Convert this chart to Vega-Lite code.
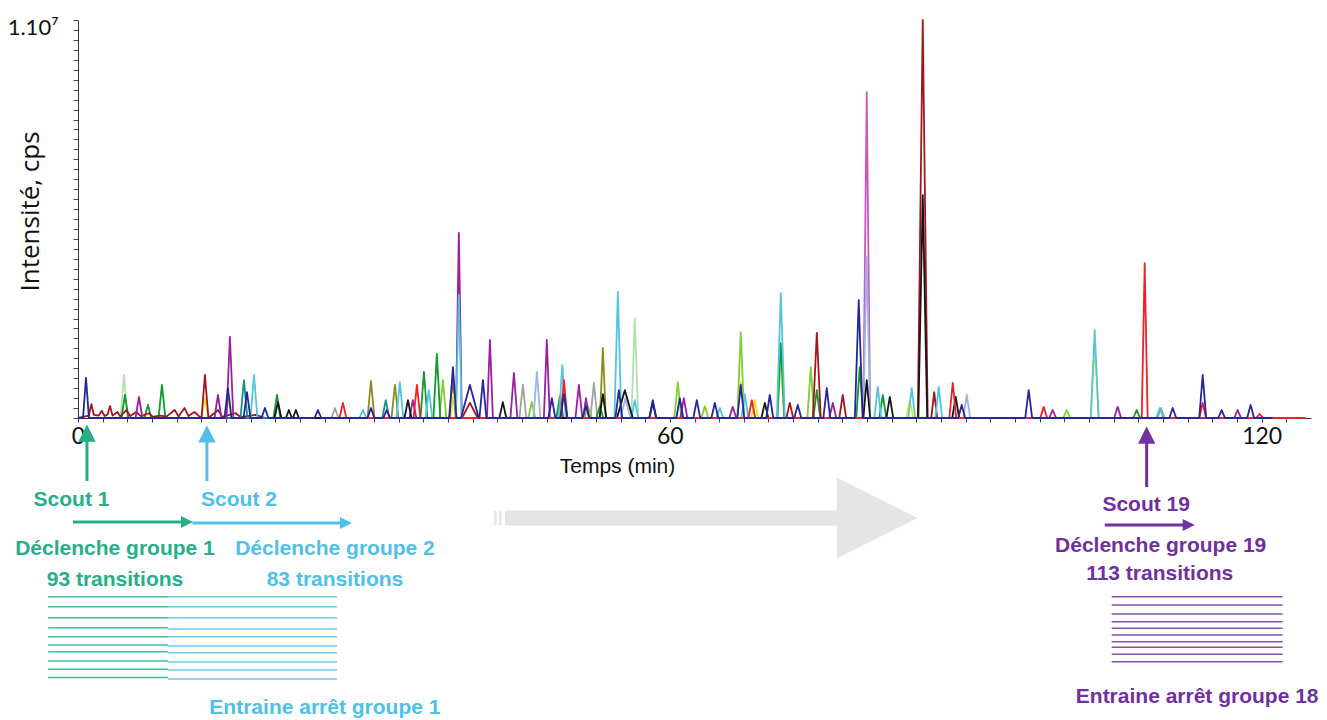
{
  "$schema": "https://vega.github.io/schema/vega-lite/v6.json",
  "width": 1233,
  "height": 398,
  "autosize": {"type": "none"},
  "padding": {"left": 78, "top": 20, "right": 16, "bottom": 302},
  "background": "white",
  "config": {"view": {"stroke": null}},
  "datasets": {
    "tr": [
      {"s":"palegreen","t":4.31,"v":0},{"s":"palegreen","t":4.66,"v":1080000},{"s":"palegreen","t":5.01,"v":0},{"s":"palegreen","t":56.1,"v":0},{"s":"palegreen","t":56.45,"v":2510000},{"s":"palegreen","t":56.8,"v":0},
      {"s":"grey","t":25.7,"v":0},{"s":"grey","t":26.05,"v":250000},{"s":"grey","t":26.4,"v":0},{"s":"grey","t":44.75,"v":0},{"s":"grey","t":45.1,"v":830000},{"s":"grey","t":45.45,"v":0},{"s":"grey","t":51.95,"v":0},{"s":"grey","t":52.3,"v":880000},{"s":"grey","t":52.65,"v":0},{"s":"grey","t":109.45,"v":0},{"s":"grey","t":109.8,"v":250000},{"s":"grey","t":110.15,"v":0},
      {"s":"olive","t":29.35,"v":0},{"s":"olive","t":29.7,"v":930000},{"s":"olive","t":30.05,"v":0},{"s":"olive","t":31.78,"v":0},{"s":"olive","t":32.13,"v":830000},{"s":"olive","t":32.48,"v":0},{"s":"olive","t":37.6,"v":0},{"s":"olive","t":37.95,"v":950000},{"s":"olive","t":38.3,"v":0},{"s":"olive","t":52.91,"v":0},{"s":"olive","t":53.21,"v":1760000},{"s":"olive","t":53.51,"v":0},
      {"s":"lime","t":36.64,"v":0},{"s":"lime","t":36.99,"v":950000},{"s":"lime","t":37.34,"v":0},{"s":"lime","t":45.65,"v":0},{"s":"lime","t":46.0,"v":400000},{"s":"lime","t":46.35,"v":0},{"s":"lime","t":51.35,"v":0},{"s":"lime","t":51.7,"v":300000},{"s":"lime","t":52.05,"v":0},{"s":"lime","t":60.46,"v":0},{"s":"lime","t":60.81,"v":900000},{"s":"lime","t":61.16,"v":0},{"s":"lime","t":63.2,"v":0},{"s":"lime","t":63.55,"v":300000},{"s":"lime","t":63.9,"v":0},{"s":"lime","t":66.84,"v":0},{"s":"lime","t":67.19,"v":2160000},{"s":"lime","t":67.54,"v":0},{"s":"lime","t":73.94,"v":0},{"s":"lime","t":74.29,"v":1280000},{"s":"lime","t":74.64,"v":0},{"s":"lime","t":99.88,"v":0},{"s":"lime","t":100.23,"v":200000},{"s":"lime","t":100.58,"v":0},
      {"s":"yellow","t":12.52,"v":0},{"s":"yellow","t":12.87,"v":500000},{"s":"yellow","t":13.22,"v":0},{"s":"yellow","t":14.95,"v":0},{"s":"yellow","t":15.3,"v":530000},{"s":"yellow","t":15.65,"v":0},{"s":"yellow","t":37.75,"v":0},{"s":"yellow","t":38.1,"v":600000},{"s":"yellow","t":38.45,"v":0},{"s":"yellow","t":66.84,"v":0},{"s":"yellow","t":67.19,"v":900000},{"s":"yellow","t":67.54,"v":0},{"s":"yellow","t":68.26,"v":0},{"s":"yellow","t":68.61,"v":450000},{"s":"yellow","t":68.96,"v":0},{"s":"yellow","t":70.9,"v":0},{"s":"yellow","t":71.25,"v":1530000},{"s":"yellow","t":71.6,"v":0},{"s":"yellow","t":83.97,"v":0},{"s":"yellow","t":84.32,"v":450000},{"s":"yellow","t":84.67,"v":0},{"s":"yellow","t":102.67,"v":0},{"s":"yellow","t":103.07,"v":1830000},{"s":"yellow","t":103.47,"v":0},
      {"s":"green","t":4.41,"v":0},{"s":"green","t":4.76,"v":580000},{"s":"green","t":5.11,"v":0},{"s":"green","t":6.74,"v":0},{"s":"green","t":7.09,"v":330000},{"s":"green","t":7.44,"v":0},{"s":"green","t":8.16,"v":0},{"s":"green","t":8.51,"v":830000},{"s":"green","t":8.86,"v":0},{"s":"green","t":19.82,"v":0},{"s":"green","t":20.17,"v":580000},{"s":"green","t":20.52,"v":0},{"s":"green","t":34.72,"v":0},{"s":"green","t":35.07,"v":1160000},{"s":"green","t":35.42,"v":0},{"s":"green","t":36.03,"v":0},{"s":"green","t":36.38,"v":1610000},{"s":"green","t":36.73,"v":0},{"s":"green","t":48.5,"v":0},{"s":"green","t":48.85,"v":550000},{"s":"green","t":49.2,"v":0},{"s":"green","t":52.55,"v":0},{"s":"green","t":52.9,"v":300000},{"s":"green","t":53.25,"v":0},{"s":"green","t":70.9,"v":0},{"s":"green","t":71.25,"v":1880000},{"s":"green","t":71.6,"v":0},{"s":"green","t":74.55,"v":0},{"s":"green","t":74.9,"v":700000},{"s":"green","t":75.25,"v":0},{"s":"green","t":78.9,"v":0},{"s":"green","t":79.25,"v":1280000},{"s":"green","t":79.6,"v":0},{"s":"green","t":81.24,"v":0},{"s":"green","t":81.59,"v":580000},{"s":"green","t":81.94,"v":0},{"s":"green","t":106.98,"v":0},{"s":"green","t":107.33,"v":200000},{"s":"green","t":107.68,"v":0},
      {"s":"maroon","t":0,"v":0},{"s":"maroon","t":1.1,"v":60000},{"s":"maroon","t":1.35,"v":350000},{"s":"maroon","t":1.6,"v":80000},{"s":"maroon","t":2.1,"v":60000},{"s":"maroon","t":2.4,"v":180000},{"s":"maroon","t":2.7,"v":50000},{"s":"maroon","t":3.0,"v":90000},{"s":"maroon","t":3.25,"v":300000},{"s":"maroon","t":3.5,"v":60000},{"s":"maroon","t":4.0,"v":150000},{"s":"maroon","t":4.3,"v":40000},{"s":"maroon","t":4.9,"v":200000},{"s":"maroon","t":5.3,"v":50000},{"s":"maroon","t":5.9,"v":150000},{"s":"maroon","t":6.4,"v":40000},{"s":"maroon","t":7.2,"v":120000},{"s":"maroon","t":7.6,"v":30000},{"s":"maroon","t":8.2,"v":60000},{"s":"maroon","t":9.0,"v":40000},{"s":"maroon","t":9.8,"v":200000},{"s":"maroon","t":10.2,"v":40000},{"s":"maroon","t":10.8,"v":250000},{"s":"maroon","t":11.2,"v":50000},{"s":"maroon","t":11.8,"v":150000},{"s":"maroon","t":12.3,"v":40000},{"s":"maroon","t":12.52,"v":0},{"s":"maroon","t":12.87,"v":1080000},{"s":"maroon","t":13.22,"v":0},{"s":"maroon","t":14.2,"v":200000},{"s":"maroon","t":14.6,"v":30000},{"s":"maroon","t":16.0,"v":120000},{"s":"maroon","t":16.5,"v":20000},{"s":"maroon","t":18.0,"v":80000},{"s":"maroon","t":19.0,"v":0},{"s":"maroon","t":38.93,"v":0},{"s":"maroon","t":39.73,"v":380000},{"s":"maroon","t":40.53,"v":0},{"s":"maroon","t":71.81,"v":0},{"s":"maroon","t":72.16,"v":380000},{"s":"maroon","t":72.51,"v":0},{"s":"maroon","t":74.5,"v":0},{"s":"maroon","t":74.9,"v":2140000},{"s":"maroon","t":75.3,"v":0},{"s":"maroon","t":77.18,"v":0},{"s":"maroon","t":77.53,"v":580000},{"s":"maroon","t":77.88,"v":0},{"s":"maroon","t":85.14,"v":0},{"s":"maroon","t":85.64,"v":10000000},{"s":"maroon","t":86.14,"v":0},{"s":"maroon","t":86.5,"v":0},{"s":"maroon","t":86.8,"v":650000},{"s":"maroon","t":87.1,"v":0},
      {"s":"pink","t":79.61,"v":0},{"s":"pink","t":79.96,"v":8190000},{"s":"pink","t":80.31,"v":0},
      {"s":"magenta","t":5.83,"v":0},{"s":"magenta","t":6.18,"v":530000},{"s":"magenta","t":6.53,"v":0},{"s":"magenta","t":13.84,"v":0},{"s":"magenta","t":14.19,"v":580000},{"s":"magenta","t":14.54,"v":0},{"s":"magenta","t":15.05,"v":0},{"s":"magenta","t":15.4,"v":2040000},{"s":"magenta","t":15.75,"v":0},{"s":"magenta","t":33.6,"v":0},{"s":"magenta","t":33.95,"v":450000},{"s":"magenta","t":34.3,"v":0},{"s":"magenta","t":38.31,"v":0},{"s":"magenta","t":38.61,"v":4650000},{"s":"magenta","t":38.91,"v":0},{"s":"magenta","t":41.46,"v":0},{"s":"magenta","t":41.76,"v":1960000},{"s":"magenta","t":42.06,"v":0},{"s":"magenta","t":43.84,"v":0},{"s":"magenta","t":44.19,"v":1130000},{"s":"magenta","t":44.54,"v":0},{"s":"magenta","t":47.23,"v":0},{"s":"magenta","t":47.53,"v":1960000},{"s":"magenta","t":47.83,"v":0},{"s":"magenta","t":50.43,"v":0},{"s":"magenta","t":50.78,"v":830000},{"s":"magenta","t":51.13,"v":0},{"s":"magenta","t":51.2,"v":0},{"s":"magenta","t":51.5,"v":500000},{"s":"magenta","t":51.8,"v":0},{"s":"magenta","t":61.07,"v":0},{"s":"magenta","t":61.42,"v":500000},{"s":"magenta","t":61.77,"v":0},{"s":"magenta","t":66.03,"v":0},{"s":"magenta","t":66.38,"v":280000},{"s":"magenta","t":66.73,"v":0},{"s":"magenta","t":76.17,"v":0},{"s":"magenta","t":76.52,"v":380000},{"s":"magenta","t":76.87,"v":0},{"s":"magenta","t":98.46,"v":0},{"s":"magenta","t":98.81,"v":200000},{"s":"magenta","t":99.16,"v":0},{"s":"magenta","t":105.05,"v":0},{"s":"magenta","t":105.4,"v":280000},{"s":"magenta","t":105.75,"v":0},{"s":"magenta","t":117.21,"v":0},{"s":"magenta","t":117.56,"v":200000},{"s":"magenta","t":117.91,"v":0},
      {"s":"cyan","t":17.49,"v":0},{"s":"cyan","t":17.84,"v":1080000},{"s":"cyan","t":18.19,"v":0},{"s":"cyan","t":28.53,"v":0},{"s":"cyan","t":28.88,"v":200000},{"s":"cyan","t":29.23,"v":0},{"s":"cyan","t":32.28,"v":0},{"s":"cyan","t":32.63,"v":900000},{"s":"cyan","t":32.98,"v":0},{"s":"cyan","t":35.22,"v":0},{"s":"cyan","t":35.57,"v":700000},{"s":"cyan","t":35.92,"v":0},{"s":"cyan","t":38.31,"v":0},{"s":"cyan","t":38.61,"v":3090000},{"s":"cyan","t":38.91,"v":0},{"s":"cyan","t":48.75,"v":0},{"s":"cyan","t":49.1,"v":1330000},{"s":"cyan","t":49.45,"v":0},{"s":"cyan","t":54.38,"v":0},{"s":"cyan","t":54.73,"v":3170000},{"s":"cyan","t":55.08,"v":0},{"s":"cyan","t":56.1,"v":0},{"s":"cyan","t":56.45,"v":450000},{"s":"cyan","t":56.8,"v":0},{"s":"cyan","t":64.72,"v":0},{"s":"cyan","t":65.07,"v":250000},{"s":"cyan","t":65.42,"v":0},{"s":"cyan","t":67.25,"v":0},{"s":"cyan","t":67.6,"v":600000},{"s":"cyan","t":67.95,"v":0},{"s":"cyan","t":70.85,"v":0},{"s":"cyan","t":71.25,"v":3140000},{"s":"cyan","t":71.65,"v":0},{"s":"cyan","t":80.73,"v":0},{"s":"cyan","t":81.08,"v":780000},{"s":"cyan","t":81.43,"v":0},{"s":"cyan","t":84.17,"v":0},{"s":"cyan","t":84.52,"v":750000},{"s":"cyan","t":84.87,"v":0},{"s":"cyan","t":86.91,"v":0},{"s":"cyan","t":87.26,"v":780000},{"s":"cyan","t":87.61,"v":0},{"s":"cyan","t":102.67,"v":0},{"s":"cyan","t":103.07,"v":2210000},{"s":"cyan","t":103.47,"v":0},{"s":"cyan","t":109.31,"v":0},{"s":"cyan","t":109.66,"v":250000},{"s":"cyan","t":110.01,"v":0},
      {"s":"lightblue","t":46.17,"v":0},{"s":"lightblue","t":46.52,"v":1160000},{"s":"lightblue","t":46.87,"v":0},{"s":"lightblue","t":55.0,"v":0},{"s":"lightblue","t":55.5,"v":500000},{"s":"lightblue","t":56.0,"v":0},{"s":"lightblue","t":79.61,"v":0},{"s":"lightblue","t":79.96,"v":4050000},{"s":"lightblue","t":80.31,"v":0},{"s":"lightblue","t":89.75,"v":0},{"s":"lightblue","t":90.1,"v":580000},{"s":"lightblue","t":90.45,"v":0},
      {"s":"teal","t":16.47,"v":0},{"s":"teal","t":16.82,"v":950000},{"s":"teal","t":17.17,"v":0},{"s":"teal","t":30.85,"v":0},{"s":"teal","t":31.2,"v":450000},{"s":"teal","t":31.55,"v":0},
      {"s":"black","t":19.92,"v":0},{"s":"black","t":20.27,"v":400000},{"s":"black","t":20.62,"v":0},{"s":"black","t":21.08,"v":0},{"s":"black","t":21.38,"v":200000},{"s":"black","t":21.68,"v":0},{"s":"black","t":21.79,"v":0},{"s":"black","t":22.09,"v":200000},{"s":"black","t":22.39,"v":0},{"s":"black","t":33.1,"v":0},{"s":"black","t":33.45,"v":450000},{"s":"black","t":33.8,"v":0},{"s":"black","t":42.72,"v":0},{"s":"black","t":43.07,"v":400000},{"s":"black","t":43.42,"v":0},{"s":"black","t":52.86,"v":0},{"s":"black","t":53.21,"v":600000},{"s":"black","t":53.56,"v":0},{"s":"black","t":54.64,"v":0},{"s":"black","t":55.44,"v":700000},{"s":"black","t":56.24,"v":0},{"s":"black","t":57.92,"v":0},{"s":"black","t":58.27,"v":380000},{"s":"black","t":58.62,"v":0},{"s":"black","t":69.28,"v":0},{"s":"black","t":69.63,"v":380000},{"s":"black","t":69.98,"v":0},{"s":"black","t":79.61,"v":0},{"s":"black","t":79.96,"v":950000},{"s":"black","t":80.31,"v":0},{"s":"black","t":81.95,"v":0},{"s":"black","t":82.3,"v":530000},{"s":"black","t":82.65,"v":0},{"s":"black","t":85.19,"v":0},{"s":"black","t":85.64,"v":5600000},{"s":"black","t":86.09,"v":0},{"s":"black","t":88.63,"v":0},{"s":"black","t":88.98,"v":530000},{"s":"black","t":89.33,"v":0},
      {"s":"red","t":26.51,"v":0},{"s":"red","t":26.86,"v":380000},{"s":"red","t":27.21,"v":0},{"s":"red","t":34.01,"v":0},{"s":"red","t":34.36,"v":830000},{"s":"red","t":34.71,"v":0},{"s":"red","t":48.91,"v":0},{"s":"red","t":49.26,"v":950000},{"s":"red","t":49.61,"v":0},{"s":"red","t":67.96,"v":0},{"s":"red","t":68.31,"v":450000},{"s":"red","t":68.66,"v":0},{"s":"red","t":88.33,"v":0},{"s":"red","t":88.68,"v":880000},{"s":"red","t":89.03,"v":0},{"s":"red","t":97.55,"v":0},{"s":"red","t":97.9,"v":280000},{"s":"red","t":98.25,"v":0},{"s":"red","t":107.84,"v":0},{"s":"red","t":108.14,"v":3890000},{"s":"red","t":108.44,"v":0},{"s":"red","t":113.67,"v":0},{"s":"red","t":114.02,"v":380000},{"s":"red","t":114.37,"v":0},{"s":"red","t":119.44,"v":0},{"s":"red","t":119.79,"v":100000},{"s":"red","t":120.14,"v":0},{"s":"red","t":124.46,"v":0},
      {"s":"navy","t":0,"v":0},{"s":"navy","t":0.51,"v":0},{"s":"navy","t":0.81,"v":1010000},{"s":"navy","t":1.11,"v":0},{"s":"navy","t":14.85,"v":0},{"s":"navy","t":15.2,"v":750000},{"s":"navy","t":15.55,"v":0},{"s":"navy","t":16.78,"v":0},{"s":"navy","t":17.13,"v":650000},{"s":"navy","t":17.48,"v":0},{"s":"navy","t":18.6,"v":0},{"s":"navy","t":18.95,"v":250000},{"s":"navy","t":19.3,"v":0},{"s":"navy","t":23.97,"v":0},{"s":"navy","t":24.32,"v":200000},{"s":"navy","t":24.67,"v":0},{"s":"navy","t":29.35,"v":0},{"s":"navy","t":29.7,"v":250000},{"s":"navy","t":30.05,"v":0},{"s":"navy","t":30.95,"v":0},{"s":"navy","t":31.3,"v":200000},{"s":"navy","t":31.65,"v":0},{"s":"navy","t":37.66,"v":0},{"s":"navy","t":38.01,"v":1280000},{"s":"navy","t":38.36,"v":0},{"s":"navy","t":38.83,"v":0},{"s":"navy","t":39.73,"v":830000},{"s":"navy","t":40.63,"v":0},{"s":"navy","t":40.7,"v":0},{"s":"navy","t":41.05,"v":950000},{"s":"navy","t":41.4,"v":0},{"s":"navy","t":47.69,"v":0},{"s":"navy","t":48.04,"v":500000},{"s":"navy","t":48.39,"v":0},{"s":"navy","t":48.91,"v":0},{"s":"navy","t":49.26,"v":600000},{"s":"navy","t":49.61,"v":0},{"s":"navy","t":51.15,"v":0},{"s":"navy","t":51.5,"v":300000},{"s":"navy","t":51.85,"v":0},{"s":"navy","t":54.48,"v":0},{"s":"navy","t":54.83,"v":700000},{"s":"navy","t":55.18,"v":0},{"s":"navy","t":57.92,"v":0},{"s":"navy","t":58.27,"v":450000},{"s":"navy","t":58.62,"v":0},{"s":"navy","t":60.66,"v":0},{"s":"navy","t":61.01,"v":500000},{"s":"navy","t":61.36,"v":0},{"s":"navy","t":62.38,"v":0},{"s":"navy","t":62.73,"v":450000},{"s":"navy","t":63.08,"v":0},{"s":"navy","t":64.21,"v":0},{"s":"navy","t":64.56,"v":380000},{"s":"navy","t":64.91,"v":0},{"s":"navy","t":66.84,"v":0},{"s":"navy","t":67.19,"v":830000},{"s":"navy","t":67.54,"v":0},{"s":"navy","t":69.78,"v":0},{"s":"navy","t":70.13,"v":580000},{"s":"navy","t":70.48,"v":0},{"s":"navy","t":72.62,"v":0},{"s":"navy","t":72.97,"v":330000},{"s":"navy","t":73.32,"v":0},{"s":"navy","t":75.56,"v":0},{"s":"navy","t":75.91,"v":750000},{"s":"navy","t":76.26,"v":0},{"s":"navy","t":78.75,"v":0},{"s":"navy","t":79.15,"v":2960000},{"s":"navy","t":79.55,"v":0},{"s":"navy","t":89.24,"v":0},{"s":"navy","t":89.59,"v":330000},{"s":"navy","t":89.94,"v":0},{"s":"navy","t":96.03,"v":0},{"s":"navy","t":96.38,"v":700000},{"s":"navy","t":96.73,"v":0},{"s":"navy","t":110.63,"v":0},{"s":"navy","t":110.98,"v":250000},{"s":"navy","t":111.33,"v":0},{"s":"navy","t":113.67,"v":0},{"s":"navy","t":114.02,"v":1080000},{"s":"navy","t":114.37,"v":0},{"s":"navy","t":115.59,"v":0},{"s":"navy","t":115.94,"v":200000},{"s":"navy","t":116.29,"v":0},{"s":"navy","t":118.53,"v":0},{"s":"navy","t":118.88,"v":330000},{"s":"navy","t":119.23,"v":0},{"s":"navy","t":121.1,"v":0}
    ],
    "vshaft": [
      {"g":"G1","t":0.91,"v":-1583000,"v2":-450000},
      {"g":"G2","t":13.07,"v":-1583000,"v2":-450000},
      {"g":"G19","t":108.34,"v":-1734000,"v2":-470000}
    ],
    "vhead": [
      {"g":"G1","t":0.91,"v":-380000},
      {"g":"G2","t":13.07,"v":-400000},
      {"g":"G19","t":108.34,"v":-430000}
    ],
    "hshaft": [
      {"g":"G1","t":-0.51,"t2":10.7,"v":-2613000},
      {"g":"G2","t":11.6,"t2":26.65,"v":-2638000},
      {"g":"G19","t":104.09,"t2":112.1,"v":-2688000}
    ],
    "hhead": [
      {"g":"G1","t":11.05,"v":-2613000},
      {"g":"G2","t":27.16,"v":-2638000},
      {"g":"G19","t":112.6,"v":-2688000}
    ],
    "labels": [
      {"g":"G1","t":-0.66,"v":-2060000,"label":"Scout 1"},
      {"g":"G1","t":3.75,"v":-3290000,"label":"Déclenche groupe 1"},
      {"g":"G1","t":3.75,"v":-4070000,"label":"93 transitions"},
      {"g":"G2","t":16.32,"v":-2060000,"label":"Scout 2"},
      {"g":"G2","t":26.05,"v":-3290000,"label":"Déclenche groupe 2"},
      {"g":"G2","t":26.05,"v":-4070000,"label":"83 transitions"},
      {"g":"G2","t":25.03,"v":-7287000,"label":"Entraine arrêt groupe 1"},
      {"g":"G19","t":108.29,"v":-2186000,"label":"Scout 19"},
      {"g":"G19","t":109.76,"v":-3216000,"label":"Déclenche groupe 19"},
      {"g":"G19","t":109.66,"v":-3920000,"label":"113 transitions"},
      {"g":"G19","t":113.46,"v":-7010000,"label":"Entraine arrêt groupe 18"}
    ],
    "trans": [
      {"g":"G1","t":-3.04,"t2":9.12,"v":-4490000},
      {"g":"G1","t":-3.04,"t2":9.12,"v":-4741000},
      {"g":"G1","t":-3.04,"t2":9.12,"v":-5018000},
      {"g":"G1","t":-3.04,"t2":9.12,"v":-5269000},
      {"g":"G1","t":-3.04,"t2":9.12,"v":-5495000},
      {"g":"G1","t":-3.04,"t2":9.12,"v":-5704000},
      {"g":"G1","t":-3.04,"t2":9.12,"v":-5872000},
      {"g":"G1","t":-3.04,"t2":9.12,"v":-6106000},
      {"g":"G1","t":-3.04,"t2":9.12,"v":-6314000},
      {"g":"G1","t":-3.04,"t2":9.12,"v":-6520000},
      {"g":"G2","t":9.12,"t2":26.25,"v":-4490000},
      {"g":"G2","t":9.12,"t2":26.25,"v":-4741000},
      {"g":"G2","t":9.12,"t2":26.25,"v":-5018000},
      {"g":"G2","t":9.12,"t2":26.25,"v":-5302000},
      {"g":"G2","t":9.12,"t2":26.25,"v":-5495000},
      {"g":"G2","t":9.12,"t2":26.25,"v":-5729000},
      {"g":"G2","t":9.12,"t2":26.25,"v":-5897000},
      {"g":"G2","t":9.12,"t2":26.25,"v":-6131000},
      {"g":"G2","t":9.12,"t2":26.25,"v":-6332000},
      {"g":"G2","t":9.12,"t2":26.25,"v":-6558000},
      {"g":"G19","t":104.79,"t2":122.12,"v":-4490000},
      {"g":"G19","t":104.79,"t2":122.12,"v":-4699000},
      {"g":"G19","t":104.79,"t2":122.12,"v":-4925000},
      {"g":"G19","t":104.79,"t2":122.12,"v":-5118000},
      {"g":"G19","t":104.79,"t2":122.12,"v":-5284000},
      {"g":"G19","t":104.79,"t2":122.12,"v":-5452000},
      {"g":"G19","t":104.79,"t2":122.12,"v":-5621000},
      {"g":"G19","t":104.79,"t2":122.12,"v":-5761000},
      {"g":"G19","t":104.79,"t2":122.12,"v":-5937000},
      {"g":"G19","t":104.79,"t2":122.12,"v":-6123000}
    ],
    "gshaft": [{"t":43.28,"t2":77.7,"v":-2513000}],
    "gbars": [
      {"t":42.31,"v":-2337000,"v2":-2688000},
      {"t":42.82,"v":-2337000,"v2":-2688000}
    ],
    "ghead": [{"t":81.03,"v":-2513000}]
  },
  "encoding": {
    "x": {
      "field": "t", "type": "quantitative",
      "scale": {"domain": [0, 125], "nice": false, "zero": false},
      "axis": {
        "values": [0,2.5,5,7.5,10,12.5,15,17.5,20,22.5,25,27.5,30,32.5,35,37.5,40,42.5,45,47.5,50,52.5,55,57.5,60,62.5,65,67.5,70,72.5,75,77.5,80,82.5,85,87.5,90,92.5,95,97.5,100,102.5,105,107.5,110,112.5,115,117.5,120,122.5],
        "labelExpr": "datum.value == 0 || datum.value == 60 || datum.value == 120 ? datum.label : ''",
        "labelOverlap": false, "labelFlush": false, "labelBound": false,
        "labelFont": "Lato", "labelFontSize": 23, "labelColor": "#111111", "labelPadding": 3,
        "tickSize": 4, "tickColor": "#333399", "domainColor": "#333333", "grid": false,
        "title": "Temps (min)", "titleFont": "Liberation Sans", "titleFontSize": 21, "titleFontWeight": "normal",
        "titleColor": "#111111", "titleX": 539, "titleY": 48, "titleBaseline": "middle", "titleAlign": "center"
      }
    },
    "y": {
      "field": "v", "type": "quantitative",
      "scale": {"domain": [0, 10000000], "nice": false, "zero": false},
      "axis": {
        "values": [0,250000,500000,750000,1000000,1250000,1500000,1750000,2000000,2250000,2500000,2750000,3000000,3250000,3500000,3750000,4000000,4250000,4500000,4750000,5000000,5250000,5500000,5750000,6000000,6250000,6500000,6750000,7000000,7250000,7500000,7750000,8000000,8250000,8500000,8750000,9000000,9250000,9500000,9750000,10000000],
        "labelExpr": "datum.value == 10000000 ? '1.10⁷' : ''",
        "labelOverlap": false, "labelFlush": false, "labelBound": false,
        "labelFont": "Lato", "labelFontSize": 22, "labelColor": "#111111", "labelPadding": 15,
        "labelBaseline": "middle", "labelOffset": 7,
        "tickSize": 5, "tickColor": "#444444", "domainColor": "#333333", "grid": false,
        "title": "Intensité, cps", "titleFont": "Open Sans", "titleFontSize": 26, "titleFontWeight": "normal",
        "titleColor": "#111111", "titleX": -48, "titleY": 191, "titleAngle": -90, "titleBaseline": "middle", "titleAlign": "center"
      }
    }
  },
  "layer": [
    {
      "data": {"name": "tr"},
      "mark": {"type": "line", "strokeWidth": 1.8, "strokeJoin": "round"},
      "encoding": {
        "color": {
          "field": "s", "type": "nominal", "legend": null,
          "scale": {
            "domain": ["palegreen","grey","olive","lime","yellow","green","maroon","pink","magenta","cyan","lightblue","teal","black","red","navy","G1","G2","G19"],
            "range": ["#b5deb2","#a0a0a0","#8e8b1c","#7fcf2f","#e6e619","#13992b","#a3161e","#cc55c3","#9b1fa0","#52c4e2","#9db5e6","#14918a","#161616","#f0202a","#25259c","#26ae8a","#4fbfea","#7030a0"]
          }
        }
      }
    },
    {
      "data": {"name": "gshaft"},
      "mark": {"type": "rule", "strokeWidth": 15, "color": "#e4e4e4"},
      "encoding": {"x2": {"field": "t2"}}
    },
    {
      "data": {"name": "gbars"},
      "mark": {"type": "rule", "strokeWidth": 3, "color": "#e8e8e8"},
      "encoding": {"y2": {"field": "v2"}}
    },
    {
      "data": {"name": "ghead"},
      "mark": {"type": "point", "shape": "M-1,-1L1,0L-1,1Z", "size": 6560, "filled": true, "opacity": 1, "color": "#e4e4e4"},
      "encoding": {}
    },
    {
      "data": {"name": "vshaft"},
      "mark": {"type": "rule", "strokeWidth": 3},
      "encoding": {
        "y2": {"field": "v2"},
        "color": {"field": "g", "type": "nominal", "legend": null,
          "scale": {
            "domain": ["palegreen","grey","olive","lime","yellow","green","maroon","pink","magenta","cyan","lightblue","teal","black","red","navy","G1","G2","G19"],
            "range": ["#b5deb2","#a0a0a0","#8e8b1c","#7fcf2f","#e6e619","#13992b","#a3161e","#cc55c3","#9b1fa0","#52c4e2","#9db5e6","#14918a","#161616","#f0202a","#25259c","#26ae8a","#4fbfea","#7030a0"]
          }}
      }
    },
    {
      "data": {"name": "vhead"},
      "mark": {"type": "point", "shape": "M0,-1L1,1L-1,1Z", "size": 300, "filled": true, "opacity": 1},
      "encoding": {
        "color": {"field": "g", "type": "nominal", "legend": null,
          "scale": {
            "domain": ["palegreen","grey","olive","lime","yellow","green","maroon","pink","magenta","cyan","lightblue","teal","black","red","navy","G1","G2","G19"],
            "range": ["#b5deb2","#a0a0a0","#8e8b1c","#7fcf2f","#e6e619","#13992b","#a3161e","#cc55c3","#9b1fa0","#52c4e2","#9db5e6","#14918a","#161616","#f0202a","#25259c","#26ae8a","#4fbfea","#7030a0"]
          }}
      }
    },
    {
      "data": {"name": "hshaft"},
      "mark": {"type": "rule", "strokeWidth": 3},
      "encoding": {
        "x2": {"field": "t2"},
        "color": {"field": "g", "type": "nominal", "legend": null,
          "scale": {
            "domain": ["palegreen","grey","olive","lime","yellow","green","maroon","pink","magenta","cyan","lightblue","teal","black","red","navy","G1","G2","G19"],
            "range": ["#b5deb2","#a0a0a0","#8e8b1c","#7fcf2f","#e6e619","#13992b","#a3161e","#cc55c3","#9b1fa0","#52c4e2","#9db5e6","#14918a","#161616","#f0202a","#25259c","#26ae8a","#4fbfea","#7030a0"]
          }}
      }
    },
    {
      "data": {"name": "hhead"},
      "mark": {"type": "point", "shape": "M-1,-1L1,0L-1,1Z", "size": 144, "filled": true, "opacity": 1},
      "encoding": {
        "color": {"field": "g", "type": "nominal", "legend": null,
          "scale": {
            "domain": ["palegreen","grey","olive","lime","yellow","green","maroon","pink","magenta","cyan","lightblue","teal","black","red","navy","G1","G2","G19"],
            "range": ["#b5deb2","#a0a0a0","#8e8b1c","#7fcf2f","#e6e619","#13992b","#a3161e","#cc55c3","#9b1fa0","#52c4e2","#9db5e6","#14918a","#161616","#f0202a","#25259c","#26ae8a","#4fbfea","#7030a0"]
          }}
      }
    },
    {
      "data": {"name": "trans"},
      "mark": {"type": "rule", "strokeWidth": 1.6, "opacity": 0.85},
      "encoding": {
        "x2": {"field": "t2"},
        "color": {"field": "g", "type": "nominal", "legend": null,
          "scale": {
            "domain": ["palegreen","grey","olive","lime","yellow","green","maroon","pink","magenta","cyan","lightblue","teal","black","red","navy","G1","G2","G19"],
            "range": ["#b5deb2","#a0a0a0","#8e8b1c","#7fcf2f","#e6e619","#13992b","#a3161e","#cc55c3","#9b1fa0","#52c4e2","#9db5e6","#14918a","#161616","#f0202a","#25259c","#26ae8a","#4fbfea","#7030a0"]
          }}
      }
    },
    {
      "data": {"name": "labels"},
      "mark": {"type": "text", "font": "Liberation Sans", "fontWeight": "bold", "fontSize": 21, "align": "center", "baseline": "middle"},
      "encoding": {
        "text": {"field": "label"},
        "color": {"field": "g", "type": "nominal", "legend": null,
          "scale": {
            "domain": ["palegreen","grey","olive","lime","yellow","green","maroon","pink","magenta","cyan","lightblue","teal","black","red","navy","G1","G2","G19"],
            "range": ["#b5deb2","#a0a0a0","#8e8b1c","#7fcf2f","#e6e619","#13992b","#a3161e","#cc55c3","#9b1fa0","#52c4e2","#9db5e6","#14918a","#161616","#f0202a","#25259c","#26ae8a","#4fbfea","#7030a0"]
          }}
      }
    }
  ]
}
